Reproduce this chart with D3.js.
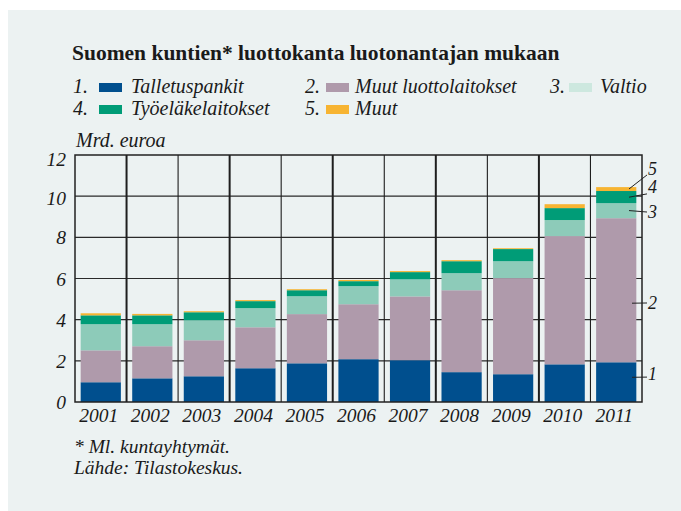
<!DOCTYPE html>
<head>
    <meta charset="utf-8" />
    <script src="https://d3js.org/d3.v7.min.js"></script>
    <style>
        body { margin: 0; background: #fff; }
        text { font-family: "Liberation Serif", "DejaVu Serif", serif; fill: #1a1a1a; }
        .it { font-style: italic; }
    </style>
    <title>Suomen kuntien luottokanta</title>
</head>
<body>
<script>
    // data (Mrd. euroa)
    var years = ["2001","2002","2003","2004","2005","2006","2007","2008","2009","2010","2011"];
    var talletuspankit   = [0.96, 1.15, 1.25, 1.64, 1.88, 2.08, 2.03, 1.45, 1.35, 1.83, 1.93];
    var muutLuottolait   = [1.55, 1.56, 1.75, 1.99, 2.39, 2.67, 3.10, 3.98, 4.67, 6.23, 7.00];
    var valtio           = [1.27, 1.07, 0.97, 0.93, 0.87, 0.88, 0.83, 0.83, 0.82, 0.78, 0.73];
    var tyoelake         = [0.43, 0.43, 0.39, 0.34, 0.29, 0.24, 0.35, 0.58, 0.59, 0.58, 0.59];
    var muut             = [0.10, 0.07, 0.05, 0.05, 0.05, 0.06, 0.05, 0.05, 0.04, 0.19, 0.19];

    var seriesNames = ["Talletuspankit", "Muut luottolaitokset", "Valtio", "Työeläkelaitokset", "Muut"];
    var colors = ["#004f8e", "#af9aab", "#8dcbb9", "#009c77", "#f7b432"];
    var legendColors = ["#004f8e", "#af9aab", "#cde8df", "#009c77", "#f7b432"];
    var yTicks = [0, 2, 4, 6, 8, 10, 12];

    // right side labels (values on the y scale): leader start, leader end, text baseline
    var annoLabels = ["1", "2", "3", "4", "5"];
    var annoFrom = [1.2, 4.8, 9.3, 9.95, 10.35];
    var annoTo   = [1.21, 4.81, 9.23, 10.11, 11.03];
    var annoText = [1.07, 4.52, 8.94, 10.14, 11.02];

    var width = 681, height = 511;
    var svg = d3.select("body").append("svg")
        .attr("width", width).attr("height", height);

    svg.append("rect").attr("x", 8).attr("y", 10)
        .attr("width", width - 8).attr("height", height - 10)
        .attr("fill", "#ecf2f2");

    svg.append("text").attr("x", 72).attr("y", 60)
        .attr("font-size", 21.5).attr("font-weight", "bold")
        .text("Suomen kuntien* luottokanta luotonantajan mukaan");

    // legend
    var legPos = [
        {n: 73, s: 99, t: 131, y: 93},
        {n: 305, s: 326, t: 355, y: 93},
        {n: 550, s: 569, t: 600, y: 93},
        {n: 73, s: 99, t: 131, y: 115},
        {n: 305, s: 326, t: 355, y: 115}
    ];
    var leg = svg.append("g");
    seriesNames.forEach(function (name, i) {
        var p = legPos[i];
        leg.append("text").attr("class", "it").attr("x", p.n).attr("y", p.y)
            .attr("font-size", 20).text((i + 1) + ".");
        leg.append("rect").attr("x", p.s).attr("y", p.y - 10)
            .attr("width", 23).attr("height", 9).attr("fill", legendColors[i]);
        leg.append("text").attr("class", "it").attr("x", p.t).attr("y", p.y)
            .attr("font-size", 20).text(name);
    });

    svg.append("text").attr("class", "it").attr("x", 76).attr("y", 147)
        .attr("font-size", 20).text("Mrd. euroa");

    var plotL = 75, plotR = 642, plotT = 155, plotB = 402;
    var x = d3.scaleBand().domain(years).range([plotL, plotR])
        .paddingInner(0.22).paddingOuter(0.11);
    var y = d3.scaleLinear().domain([0, 12]).range([plotB, plotT]);

    // horizontal grid
    svg.append("g").selectAll("line").data(yTicks.slice(1, -1)).join("line")
        .attr("x1", plotL).attr("x2", plotR)
        .attr("y1", d => y(d)).attr("y2", d => y(d))
        .attr("stroke", "#2a2a2a").attr("stroke-width", 1.2);

    // vertical separators between years
    var step = x.step();
    svg.append("g").selectAll("line").data(years.slice(1)).join("line")
        .attr("x1", d => x(d) - step * x.paddingInner() / 2)
        .attr("x2", d => x(d) - step * x.paddingInner() / 2)
        .attr("y1", plotT).attr("y2", plotB)
        .attr("stroke", "#1e1e1e")
        .attr("stroke-width", (d, i) => i % 2 === 0 ? 2 : 1.1);

    // stacked bars
    var table = years.map(function (yr, i) {
        return {year: yr, s0: talletuspankit[i], s1: muutLuottolait[i], s2: valtio[i], s3: tyoelake[i], s4: muut[i]};
    });
    var stack = d3.stack().keys(["s0", "s1", "s2", "s3", "s4"])(table);
    svg.append("g").selectAll("g").data(stack).join("g")
        .attr("fill", (d, i) => colors[i])
        .selectAll("rect").data(d => d).join("rect")
        .attr("x", d => x(d.data.year))
        .attr("width", x.bandwidth())
        .attr("y", d => y(d[1]))
        .attr("height", d => y(d[0]) - y(d[1]));

    // frame
    svg.append("rect").attr("x", plotL).attr("y", plotT)
        .attr("width", plotR - plotL).attr("height", plotB - plotT)
        .attr("fill", "none").attr("stroke", "#222").attr("stroke-width", 1.5);

    // y labels
    svg.append("g").selectAll("text").data(yTicks).join("text")
        .attr("class", "it").attr("font-size", 19.5)
        .attr("text-anchor", "end").attr("x", 66)
        .attr("y", d => y(d) + (d === 12 ? 11 : d === 10 ? 9 : 7))
        .text(d => d);

    // x labels
    svg.append("g").selectAll("text").data(years).join("text")
        .attr("class", "it").attr("font-size", 19.5)
        .attr("text-anchor", "middle")
        .attr("x", d => x(d) + x.bandwidth() / 2 - 2)
        .attr("y", 422)
        .text(d => d);

    // leader labels on the right
    var ag = svg.append("g");
    annoLabels.forEach(function (lab, i) {
        ag.append("line")
            .attr("x1", i < 2 ? 632 : 629).attr("y1", y(annoFrom[i]))
            .attr("x2", 647).attr("y2", y(annoTo[i]))
            .attr("stroke", "#222").attr("stroke-width", 1);
        ag.append("text").attr("class", "it").attr("font-size", 18)
            .attr("x", 648).attr("y", y(annoText[i])).text(lab);
    });

    svg.append("text").attr("class", "it").attr("x", 74).attr("y", 453)
        .attr("font-size", 19.5).text("* Ml. kuntayhtymät.");
    svg.append("text").attr("class", "it").attr("x", 74).attr("y", 474)
        .attr("font-size", 19.5).text("Lähde: Tilastokeskus.");
</script>
</body>
